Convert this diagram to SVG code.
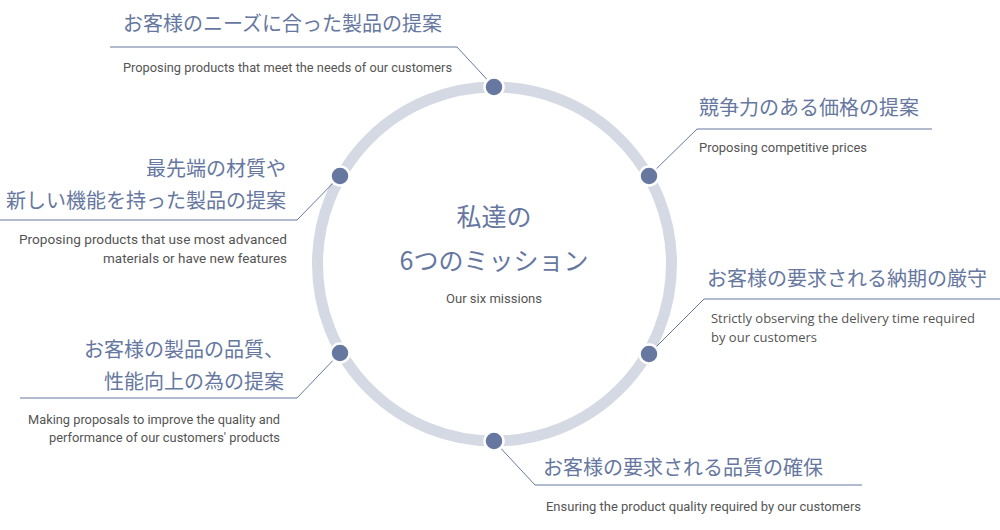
<svg xmlns="http://www.w3.org/2000/svg" width="1000" height="530" viewBox="0 0 1000 530">
<style>
.t{font-family:"Noto Sans CJK JP","Noto Sans",sans-serif;font-size:20px;fill:#6677a0}
.s{font-family:"Roboto","Liberation Sans",sans-serif;font-size:13px;fill:#555}
.o{font-family:"Open Sans","Liberation Sans",sans-serif;font-size:13px;fill:#555}
.l{fill:none;stroke:#6677a0;stroke-width:1}
.d{fill:#6677a0;stroke:#fff;stroke-width:2.5}
.c{font-family:"Noto Sans CJK JP","Noto Sans",sans-serif;font-size:25px;fill:#6677a0;text-anchor:middle}
</style>
<rect width="1000" height="530" fill="#fff"/>
<circle cx="494.5" cy="264" r="177" fill="none" stroke="#d4d9e4" stroke-width="11"/>
<g id="connectors">
<polyline class="l" points="494,87 457,47 110,47"/>
<polyline class="l" points="649,176 697,129 932,129"/>
<polyline class="l" points="649,354 704,299 1000,299"/>
<polyline class="l" points="494,441 535,485 862,485"/>
<polyline class="l" points="340,353 297,398 20,398"/>
<polyline class="l" points="340,176 297,220 0,220"/>
</g>
<g id="center">
<text class="c" x="494" y="226">私達の</text>
<text class="c" x="494" y="270">6つのミッション</text>
<text class="s" x="494" y="303" text-anchor="middle" textLength="96" lengthAdjust="spacingAndGlyphs">Our six missions</text>
</g>
<g id="n1"><circle class="d" cx="494" cy="87" r="9.5"/>
<text class="t" x="123" y="31">お客様のニーズに合った製品の提案</text>
<text class="s" x="123" y="72" textLength="329" lengthAdjust="spacingAndGlyphs">Proposing products that meet the needs of our customers</text></g>
<g id="n2"><circle class="d" cx="649" cy="176" r="9.5"/>
<text class="t" x="699" y="115">競争力のある価格の提案</text>
<text class="s" x="699" y="152" textLength="168" lengthAdjust="spacingAndGlyphs">Proposing competitive prices</text></g>
<g id="n3"><circle class="d" cx="649" cy="354" r="9.5"/>
<text class="t" x="707" y="286">お客様の要求される納期の厳守</text>
<text class="o" x="711" y="323" textLength="264" lengthAdjust="spacingAndGlyphs">Strictly observing the delivery time required</text>
<text class="o" x="711" y="342">by our customers</text></g>
<g id="n4"><circle class="d" cx="494" cy="441" r="9.5"/>
<text class="t" x="543" y="475">お客様の要求される品質の確保</text>
<text class="s" x="546" y="511" textLength="315" lengthAdjust="spacingAndGlyphs">Ensuring the product quality required by our customers</text></g>
<g id="n5"><circle class="d" cx="340" cy="353" r="9.5"/>
<text class="t" x="284" y="357" text-anchor="end">お客様の製品の品質、</text>
<text class="t" x="284" y="389" text-anchor="end">性能向上の為の提案</text>
<text class="s" x="280" y="424" text-anchor="end" textLength="252" lengthAdjust="spacingAndGlyphs">Making proposals to improve the quality and</text>
<text class="s" x="280" y="442" text-anchor="end" textLength="231" lengthAdjust="spacingAndGlyphs">performance of our customers' products</text></g>
<g id="n6"><circle class="d" cx="340" cy="176" r="9.5"/>
<text class="t" x="286" y="176" text-anchor="end">最先端の材質や</text>
<text class="t" x="286" y="208" text-anchor="end">新しい機能を持った製品の提案</text>
<text class="s" x="287" y="244" text-anchor="end" textLength="268" lengthAdjust="spacingAndGlyphs">Proposing products that use most advanced</text>
<text class="s" x="287" y="263" text-anchor="end" textLength="184" lengthAdjust="spacingAndGlyphs">materials or have new features</text></g>
</svg>
